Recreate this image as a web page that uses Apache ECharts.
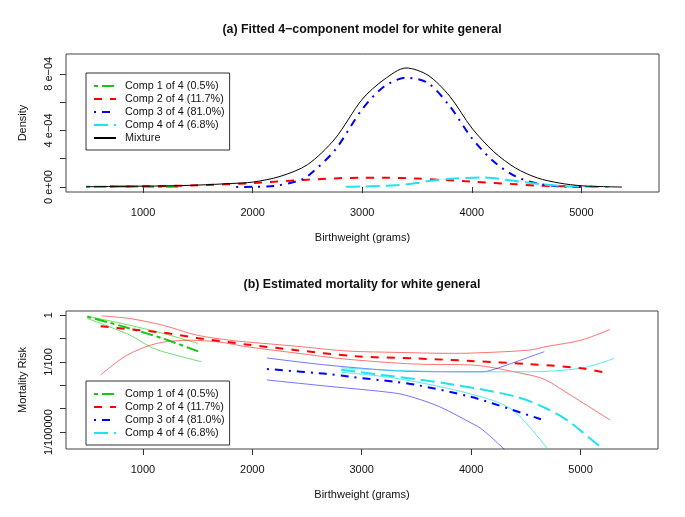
<!DOCTYPE html>
<html>
<head>
<meta charset="utf-8">
<script src="https://cdn.jsdelivr.net/npm/echarts@6/dist/echarts.min.js"></script>
<style>
html,body{margin:0;padding:0;background:#fff;}
#chart{width:685px;height:517px;}
</style>
</head>
<body>
<div id="chart"></div>
<script>
// ---------- Panel (a): densities ----------
const birthTicks = [1000, 2000, 3000, 4000, 5000];
const densityTickValues = [0, 2e-4, 4e-4, 6e-4, 8e-4];
const densityLabelValues = [0, 4e-4, 8e-4];
const densityLabels = ['0 e+00', '4 e\u221204', '8 e\u221204'];

const comp1X = [480, 700, 1000, 1350];
const comp1D = [0.02e-4, 0.03e-4, 0.03e-4, 0.02e-4];
const comp2X = [700, 1000, 1500, 2000, 2500, 3000, 3200, 3500, 4000, 4400, 4600, 5000, 5200];
const comp2D = [0.03e-4, 0.05e-4, 0.12e-4, 0.28e-4, 0.52e-4, 0.66e-4, 0.66e-4, 0.6e-4, 0.38e-4, 0.2e-4, 0.1e-4, 0.03e-4, 0.0];
const comp3X = [1850, 2000, 2200, 2400, 2500, 2750, 3000, 3200, 3400, 3600, 3800, 4000, 4200, 4400, 4600, 4800, 5000];
const comp3D = [0.0, 0.02e-4, 0.08e-4, 0.4e-4, 0.75e-4, 2.6e-4, 5.5e-4, 7.1e-4, 7.72e-4, 7.35e-4, 5.7e-4, 3.46e-4, 1.8e-4, 0.75e-4, 0.25e-4, 0.05e-4, 0.0];
const comp4X = [2850, 3000, 3300, 3500, 3600, 3800, 4100, 4400, 4600, 4800, 5000, 5250];
const comp4D = [0.02e-4, 0.04e-4, 0.12e-4, 0.28e-4, 0.42e-4, 0.58e-4, 0.68e-4, 0.42e-4, 0.23e-4, 0.08e-4, 0.03e-4, 0.0];
const mixX = [480, 800, 1200, 1500, 1800, 2000, 2250, 2500, 2750, 3000, 3200, 3400, 3600, 3800, 4000, 4200, 4400, 4600, 4800, 5000, 5200, 5370];
const mixD = [0.02e-4, 0.05e-4, 0.08e-4, 0.14e-4, 0.25e-4, 0.35e-4, 0.75e-4, 1.58e-4, 3.4e-4, 6.2e-4, 7.6e-4, 8.41e-4, 7.9e-4, 6.4e-4, 4.17e-4, 2.5e-4, 1.34e-4, 0.64e-4, 0.28e-4, 0.09e-4, 0.03e-4, 0.0];

// ---------- Panel (b): mortality risk (estimate, upper, lower) ----------
const riskTickValues = [1, 0.1, 0.01, 0.001, 0.0001, 0.00001];
const riskLabelValues = [1, 0.01, 0.00001];
const riskLabels = ['1', '1/100', '1/100000'];

const m1X = [492, 700, 881, 1185, 1535];
const m1 = [0.85, 0.47, 0.27, 0.10, 0.025];
const m1UpX = [492, 881, 1185, 1505];
const m1Up = [0.91, 0.37, 0.166, 0.062];
const m1LoX = [492, 881, 1064, 1185, 1535];
const m1Lo = [0.72, 0.141, 0.045, 0.0275, 0.0102];

const m2X = [614, 881, 1185, 1490, 1946, 2402, 2950, 3497, 4005, 4531, 5003, 5270];
const m2 = [0.34, 0.25, 0.178, 0.107, 0.056, 0.032, 0.0174, 0.0141, 0.011, 0.0081, 0.0054, 0.0032];
const m2UpX = [623, 881, 1185, 1490, 1794, 1946, 2402, 2858, 3315, 3801, 4005, 4531, 4683, 5003, 5270];
const m2Up = [0.93, 0.72, 0.37, 0.141, 0.085, 0.072, 0.047, 0.0295, 0.0257, 0.0234, 0.024, 0.032, 0.045, 0.085, 0.245];
const m2LoX = [614, 851, 1125, 1429, 1700, 1946, 2402, 2858, 3497, 4005, 4531, 4683, 4835, 5270];
const m2Lo = [0.0028, 0.019, 0.062, 0.085, 0.071, 0.045, 0.024, 0.0132, 0.0081, 0.0074, 0.0028, 0.0017, 0.00063, 0.000033];

const m3X = [2134, 2676, 2889, 3315, 3497, 4005, 4379, 4638];
const m3 = [0.005, 0.0031, 0.00234, 0.0014, 0.00105, 0.000316, 0.000089, 0.0000355];
const m3UpX = [2134, 2676, 3315, 3801, 4105, 4250, 4410, 4668];
const m3Up = [0.0148, 0.0074, 0.0042, 0.0038, 0.0038, 0.0056, 0.0102, 0.0275];
const m3LoX = [2134, 2676, 3315, 3497, 3710, 4005, 4105, 4330];
const m3Lo = [0.0017, 0.00093, 0.00046, 0.00028, 0.000123, 0.000024, 0.0000126, 0.0000014];

const m4X = [2813, 3193, 3801, 4410, 4683, 4896, 5220];
const m4 = [0.0046, 0.00275, 0.00115, 0.00033, 0.000105, 0.000028, 0.0000016];
const m4UpX = [2813, 3315, 4005, 4531, 5003, 5307];
const m4Up = [0.0056, 0.0043, 0.0038, 0.0038, 0.0054, 0.0141];
const m4LoX = [2813, 3315, 4005, 4379, 4720];
const m4Lo = [0.0036, 0.002, 0.00042, 0.000089, 0.0000014];

const names = ['Comp 1 of 4 (0.5%)', 'Comp 2 of 4 (11.7%)', 'Comp 3 of 4 (81.0%)', 'Comp 4 of 4 (6.8%)', 'Mixture'];

// ---------- styling ----------
const FONT = "'Liberation Sans', Arial, Helvetica, sans-serif";
const colors = ['#10C810', '#FF0000', '#0000FF', '#1FE3EE', '#000000'];
const bandColors = ['rgba(16,200,16,0.6)', 'rgba(255,0,0,0.55)', 'rgba(0,0,255,0.55)', 'rgba(31,227,238,0.75)'];
const dashes = [[4, 4, 12, 4], [8, 8], [2, 6, 8, 6], [14, 6], 'solid'];

function zip(xs, ys) { return xs.map((x, i) => [x, ys[i]]); }

function mainLine(idx, xs, ys, axis, width) {
  return {
    type: 'line', name: names[idx], xAxisIndex: axis, yAxisIndex: axis,
    data: zip(xs, ys), showSymbol: false, symbol: 'none',
    smooth: 0.3, clip: true, silent: true,
    lineStyle: { color: colors[idx], width: width, type: dashes[idx] },
    itemStyle: { color: colors[idx] }, z: 3
  };
}
function bandLine(idx, xs, ys, tag) {
  return {
    type: 'line', name: 'band' + idx + tag, xAxisIndex: 1, yAxisIndex: 1,
    data: zip(xs, ys), showSymbol: false, symbol: 'none',
    smooth: 0.3, clip: true, silent: true,
    lineStyle: { color: bandColors[idx], width: 1, type: 'solid' }, z: 2
  };
}

const xAxisCommon = {
  type: 'value', min: 297, max: 5708,
  axisLine: { show: false },
  splitLine: { show: false },
  axisTick: { show: true, inside: false, length: 6, lineStyle: { color: '#333' }, customValues: birthTicks },
  axisLabel: { customValues: birthTicks, color: '#111', fontSize: 11, fontFamily: FONT, margin: 15, formatter: v => String(v) },
  name: 'Birthweight (grams)', nameLocation: 'middle', nameGap: 40,
  nameTextStyle: { color: '#111', fontSize: 11, fontFamily: FONT }
};

const legendCommon = {
  orient: 'vertical', left: 86,
  itemWidth: 22, itemHeight: 10, itemGap: 1,
  padding: [7, 5, 6, 7], borderColor: '#333', borderWidth: 1, borderRadius: 0,
  selectedMode: false,
  itemStyle: { opacity: 0 },
  textStyle: { color: '#111', fontSize: 10.8, fontFamily: FONT, lineHeight: 12, padding: [0, 0, 0, 4] }
};

const option = {
  animation: false,
  backgroundColor: '#fff',
  textStyle: { fontFamily: FONT },
  grid: [
    { left: 66, top: 54, width: 593, height: 138, show: true, borderColor: '#444', borderWidth: 1, backgroundColor: 'transparent' },
    { left: 66, top: 311, width: 592, height: 138, show: true, borderColor: '#444', borderWidth: 1, backgroundColor: 'transparent' }
  ],
  xAxis: [
    Object.assign({ gridIndex: 0 }, xAxisCommon),
    Object.assign({ gridIndex: 1 }, xAxisCommon)
  ],
  yAxis: [
    {
      gridIndex: 0, type: 'value', min: -0.35e-4, max: 9.4e-4,
      axisLine: { show: false }, splitLine: { show: false },
      axisTick: { show: true, length: 6, lineStyle: { color: '#333' }, customValues: densityTickValues },
      axisLabel: {
        customValues: densityLabelValues, rotate: 90, margin: 12, color: '#111', fontSize: 11, fontFamily: FONT,
        formatter: function (v) { const i = densityLabelValues.findIndex(d => Math.abs(d - v) < 1e-9); return i >= 0 ? densityLabels[i] : ''; }
      },
      name: 'Density', nameLocation: 'middle', nameGap: 38, nameRotate: 90,
      nameTextStyle: { color: '#111', fontSize: 11, fontFamily: FONT }
    },
    {
      gridIndex: 1, type: 'log', logBase: 10, min: 1.9e-6, max: 1.51,
      axisLine: { show: false }, splitLine: { show: false },
      axisTick: { show: true, length: 6, lineStyle: { color: '#333' }, customValues: riskTickValues },
      axisLabel: {
        customValues: riskLabelValues, rotate: 90, margin: 12, color: '#111', fontSize: 11, fontFamily: FONT,
        formatter: function (v) { const i = riskLabelValues.findIndex(d => Math.abs(Math.log10(d) - Math.log10(v)) < 1e-6); return i >= 0 ? riskLabels[i] : ''; }
      },
      name: 'Mortality Risk', nameLocation: 'middle', nameGap: 38, nameRotate: 90,
      nameTextStyle: { color: '#111', fontSize: 11, fontFamily: FONT }
    }
  ],
  legend: [
    Object.assign({ data: names, top: 73 }, legendCommon),
    Object.assign({ data: names.slice(0, 4), top: 381 }, legendCommon)
  ],
  graphic: [
    { type: 'text', x: 362, y: 30, style: { text: '(a) Fitted 4\u2212component model for white general', font: 'bold 12.4px ' + FONT, fill: '#111', textAlign: 'center', textVerticalAlign: 'middle' } },
    { type: 'text', x: 362, y: 285, style: { text: '(b) Estimated mortality for white general', font: 'bold 12.4px ' + FONT, fill: '#111', textAlign: 'center', textVerticalAlign: 'middle' } }
  ],
  series: [
    mainLine(0, comp1X, comp1D, 0, 2),
    mainLine(1, comp2X, comp2D, 0, 2),
    mainLine(2, comp3X, comp3D, 0, 2),
    mainLine(3, comp4X, comp4D, 0, 2),
    mainLine(4, mixX, mixD, 0, 1),
    bandLine(0, m1UpX, m1Up, 'u'), bandLine(0, m1LoX, m1Lo, 'l'),
    bandLine(1, m2UpX, m2Up, 'u'), bandLine(1, m2LoX, m2Lo, 'l'),
    bandLine(2, m3UpX, m3Up, 'u'), bandLine(2, m3LoX, m3Lo, 'l'),
    bandLine(3, m4UpX, m4Up, 'u'), bandLine(3, m4LoX, m4Lo, 'l'),
    mainLine(0, m1X, m1, 1, 2),
    mainLine(1, m2X, m2, 1, 2),
    mainLine(2, m3X, m3, 1, 2),
    mainLine(3, m4X, m4, 1, 2)
  ]
};

const chart = echarts.init(document.getElementById('chart'), null, { renderer: 'canvas' });
chart.setOption(option);
</script>
</body>
</html>
